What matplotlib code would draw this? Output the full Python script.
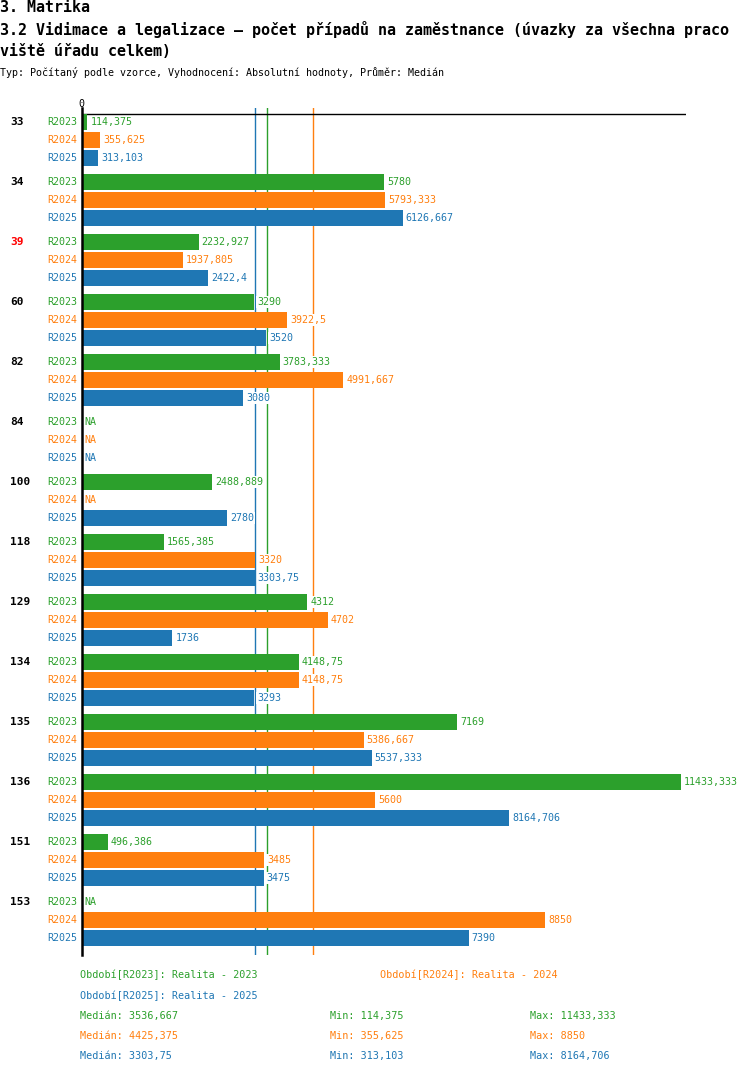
import numpy as np
import matplotlib
matplotlib.use("Agg")
import matplotlib.pyplot as plt
from matplotlib.transforms import blended_transform_factory

plt.rcParams['font.family'] = ['DejaVu Sans Mono']

# ---- data ----
units = ["33", "34", "39", "60", "82", "84", "100", "118", "129", "134", "135", "136", "151", "153"]
series = ["R2023", "R2024", "R2025"]
r2023 = [114.375, 5780, 2232.927, 3290, 3783.333, np.nan, 2488.889, 1565.385, 4312, 4148.75, 7169, 11433.333, 496.386, np.nan]
r2024 = [355.625, 5793.333, 1937.805, 3922.5, 4991.667, np.nan, np.nan, 3320, 4702, 4148.75, 5386.667, 5600, 3485, 8850]
r2025 = [313.103, 6126.667, 2422.4, 3520, 3080, np.nan, 2780, 3303.75, 1736, 3293, 5537.333, 8164.706, 3475, 7390]
highlight = "39"
legend_names = ["Období[R2023]: Realita - 2023", "Období[R2024]: Realita - 2024", "Období[R2025]: Realita - 2025"]

colors = ["#2ca02c", "#ff7f0e", "#1f77b4"]
W, H = 750, 1074


def fmt(v):
    s = f"{v:.3f}".rstrip("0").rstrip(".")
    return s.replace(".", ",")


def fx(px):
    return px / W


def fy(py):
    return 1 - py / H


fig = plt.figure(figsize=(W / 100, H / 100), dpi=100)
ax = fig.add_axes([fx(81.5), fy(955), fx(686) - fx(81.5), fy(108) - fy(955)])

values = [r2023, r2024, r2025]
GROUP = 60
ROW = 18
for j, vals in enumerate(values):
    ys = [i * GROUP + j * ROW for i in range(len(units))]
    v = np.array(vals, dtype=float)
    ax.barh(ys, np.nan_to_num(v), height=16, color=colors[j], zorder=3)
    for y, val in zip(ys, v):
        if np.isnan(val):
            ax.annotate("NA", (0, y), xytext=(3, 0), textcoords="offset pixels",
                        ha="left", va="center", fontsize=7.2, color=colors[j], zorder=5)
        else:
            ax.annotate(fmt(val), (val, y), xytext=(3, 0), textcoords="offset pixels",
                        ha="left", va="center", fontsize=7.2, color=colors[j], zorder=5,
                        bbox=dict(facecolor="white", edgecolor="none", pad=0.5))
        ax.annotate(series[j], (0, y), xytext=(-4, 0), textcoords="offset pixels",
                    ha="right", va="center", fontsize=7.2, color=colors[j],
                    annotation_clip=False)

# median lines
medians = [np.nanmedian(np.array(v, dtype=float)) for v in values]
for j, m in enumerate(medians):
    ax.axvline(m, color=colors[j], lw=1, zorder=1)

ax.set_xlim(0, (686 - 81.5) / 0.0524)
ax.set_ylim(955 - 122, 108 - 122)
ax.axhline(-8, color="black", lw=1, zorder=2)
ax.set_xticks([])
ax.set_yticks([])
for s in ["top", "right", "bottom"]:
    ax.spines[s].set_visible(False)
ax.spines["left"].set_linewidth(1.8)
ax.spines["left"].set_zorder(6)
ax.patch.set_alpha(0)

ax.annotate("0", (0, -8), xytext=(0, 5), textcoords="offset pixels",
            ha="center", va="bottom", fontsize=7.2, annotation_clip=False)

# group labels
tr = blended_transform_factory(fig.transFigure, ax.transData)
for i, u in enumerate(units):
    ax.text(fx(10), i * GROUP, u, transform=tr, ha="left", va="center",
            fontsize=8, fontweight="bold", color="red" if u == highlight else "black")

# titles
fig.text(fx(0), fy(8), "3. Matrika", fontsize=10.8, fontweight="bold", va="center")
fig.text(fx(0), fy(30), "3.2 Vidimace a legalizace – počet případů na zaměstnance (úvazky za všechna praco",
         fontsize=10.8, fontweight="bold", va="center")
fig.text(fx(0), fy(51), "viště úřadu celkem)", fontsize=10.8, fontweight="bold", va="center")
fig.text(fx(0), fy(73), "Typ: Počítaný podle vzorce, Vyhodnocení: Absolutní hodnoty, Průměr: Medián",
         fontsize=7.2, va="center")

# legend
fig.text(fx(80), fy(975), legend_names[0], color=colors[0], fontsize=7.3, va="center")
fig.text(fx(380), fy(975), legend_names[1], color=colors[1], fontsize=7.3, va="center")
fig.text(fx(80), fy(996), legend_names[2], color=colors[2], fontsize=7.3, va="center")
for j, vals in enumerate(values):
    v = np.array(vals, dtype=float)
    yy = fy(1016 + j * 20)
    fig.text(fx(80), yy, "Medián: " + fmt(medians[j]), color=colors[j], fontsize=7.3, va="center")
    fig.text(fx(330), yy, "Min: " + fmt(np.nanmin(v)), color=colors[j], fontsize=7.3, va="center")
    fig.text(fx(530), yy, "Max: " + fmt(np.nanmax(v)), color=colors[j], fontsize=7.3, va="center")

fig.savefig("out.png", dpi=100)
